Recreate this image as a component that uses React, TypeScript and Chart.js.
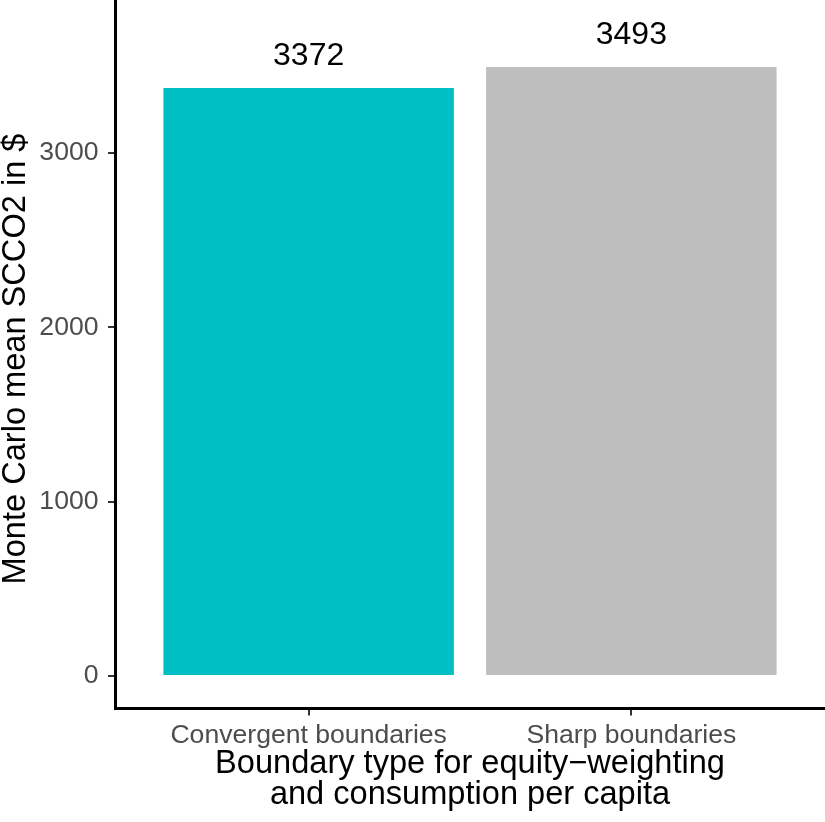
import React, { useEffect, useRef } from "react";
import { Chart, registerables } from "chart.js";

Chart.register(...registerables);

const categories = ["Convergent boundaries", "Sharp boundaries"];
const values = [3372, 3493];
const barColors = ["#00BFC4", "#BEBEBE"];
const yTicks = [0, 1000, 2000, 3000];
const yTitle = "Monte Carlo mean SCCO2 in $";
const xTitle = ["Boundary type for equity\u2212weighting", "and consumption per capita"];

const FONT = '"Liberation Sans", Arial, Helvetica, sans-serif';

const annotate = {
  id: "annotate",
  afterDraw(chart: any) {
    const ctx = chart.ctx;
    const area = chart.chartArea;
    ctx.save();
    ctx.fillStyle = "#000000";
    ctx.font = `32px ${FONT}`;
    ctx.textAlign = "center";
    ctx.textBaseline = "alphabetic";
    const meta = chart.getDatasetMeta(0);
    meta.data.forEach((el: any, i: number) => {
      ctx.fillText(String(values[i]), el.x, el.y - 23);
    });
    // x title
    const cx = (area.left + area.right) / 2;
    ctx.font = `32.6px ${FONT}`;
    ctx.fillText(xTitle[0], cx, 773);
    ctx.fillText(xTitle[1], cx, 804);
    // y title
    ctx.translate(25, 359);
    ctx.rotate(-Math.PI / 2);
    ctx.fillText(yTitle, 0, 0);
    ctx.restore();
  },
};

export default function App() {
  const ref = useRef<HTMLCanvasElement | null>(null);
  useEffect(() => {
    if (!ref.current) return;
    const chart = new Chart(ref.current, {
      type: "bar",
      data: {
        datasets: [
          {
            data: categories.map((c, i) => ({ x: i + 1, y: values[i] })),
            backgroundColor: barColors,
            borderWidth: 0,
            categoryPercentage: 1,
            barPercentage: 0.9,
          },
        ],
      },
      options: {
        responsive: false,
        animation: false,
        devicePixelRatio: 1,
        layout: { padding: 0 },
        plugins: {
          legend: { display: false },
          tooltip: { enabled: false },
          title: { display: false },
        },
        scales: {
          x: {
            type: "linear",
            offset: false,
            min: 0.4,
            max: 2.6,
            afterBuildTicks: (s: any) => {
              s.ticks = categories.map((_, i) => ({ value: i + 1 }));
            },
            afterFit: (s: any) => {
              s.height = 113.5;
              s.paddingLeft = 0;
              s.paddingRight = 0;
            },
            ticks: {
              autoSkip: false,
              maxRotation: 0,
              padding: 4,
              color: "#4D4D4D",
              font: { family: FONT, size: 26.6 },
              callback: (v: any) => {
                const idx = Math.round(Number(v)) - 1;
                return categories[idx] ?? "";
              },
            },
            grid: {
              offset: false,
              drawOnChartArea: false,
              drawTicks: true,
              tickLength: 7,
              color: "#333333",
              lineWidth: 2,
            },
            border: { display: true, color: "#000000", width: 3 },
          },
          y: {
            type: "linear",
            min: -187,
            max: 3877,
            afterBuildTicks: (s: any) => {
              s.ticks = yTicks.map((v) => ({ value: v }));
            },
            afterFit: (s: any) => {
              s.width = 115;
              s.paddingTop = 0;
              s.paddingBottom = 0;
            },
            ticks: {
              padding: 9.5,
              color: "#4D4D4D",
              font: { family: FONT, size: 26.6 },
              callback: (v: any) => String(v),
            },
            grid: {
              drawOnChartArea: false,
              drawTicks: true,
              tickLength: 7,
              color: "#333333",
              lineWidth: 2,
            },
            border: { display: true, color: "#000000", width: 3 },
          },
        },
      },
      plugins: [annotate],
    });
    return () => chart.destroy();
  }, []);
  return (
    <div style={{ position: "absolute", left: 0, top: 0, width: 825, height: 822, background: "#fff" }}>
      <canvas ref={ref} width={825} height={822} style={{ display: "block" }} />
    </div>
  );
}
